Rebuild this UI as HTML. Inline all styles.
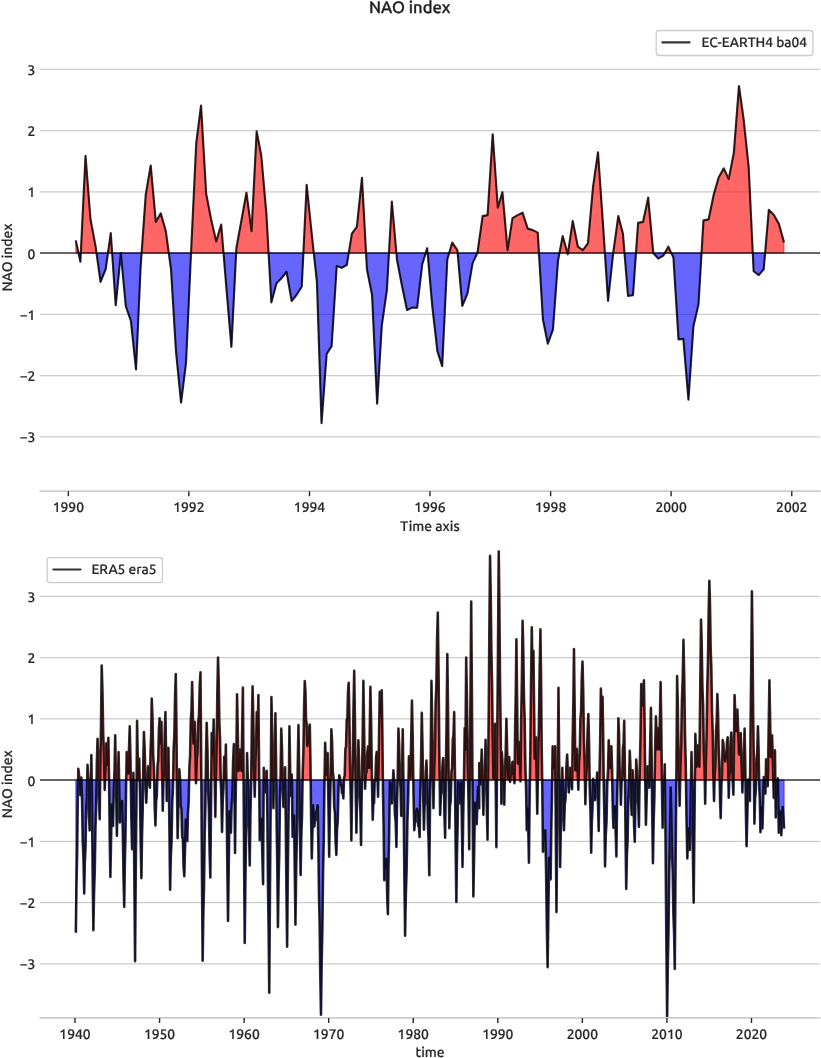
<!DOCTYPE html>
<html lang="en"><head><meta charset="utf-8"><title>NAO index</title>
<style>
html,body{margin:0;padding:0;background:#fff;overflow:hidden}
svg{display:block}
</style></head>
<body>
<svg width="821" height="1058" viewBox="0 0 821 1058" font-family="Ubuntu, 'Liberation Sans', 'DejaVu Sans', sans-serif" font-weight="500" text-rendering="geometricPrecision">
<rect width="821" height="1058" fill="#ffffff"/>
<text x="409.7" y="12.7" text-anchor="middle" font-size="16.6" fill="#1f1f1f" stroke="#1f1f1f" stroke-width="0.35">NAO index</text>
<line x1="40.0" x2="820.0" y1="436.85" y2="436.85" stroke="#cccccc" stroke-width="1.1"/>
<line x1="40.0" x2="820.0" y1="375.6" y2="375.6" stroke="#cccccc" stroke-width="1.1"/>
<line x1="40.0" x2="820.0" y1="314.35" y2="314.35" stroke="#cccccc" stroke-width="1.1"/>
<line x1="40.0" x2="820.0" y1="191.85" y2="191.85" stroke="#cccccc" stroke-width="1.1"/>
<line x1="40.0" x2="820.0" y1="130.6" y2="130.6" stroke="#cccccc" stroke-width="1.1"/>
<line x1="40.0" x2="820.0" y1="69.35" y2="69.35" stroke="#cccccc" stroke-width="1.1"/>
<clipPath id="c1"><rect x="40.0" y="24.0" width="780.0" height="467.0"/></clipPath>
<g clip-path="url(#c1)">
<path d="M75.78,253.1 L75.78,240.42 L78.53,253.1Z M80.81,253.1 L85.52,155.71 L90.47,219.04 L95.58,246.36 L96.52,253.1Z M107.94,253.1 L110.77,233.07 L112.14,253.1Z M141.6,253.1 L145.76,194.67 L150.71,165.51 L155.83,221.86 L160.78,213.29 L165.89,231.66 L168.81,253.1Z M191.01,253.1 L191.15,250.04 L196.26,142.85 L201.05,105.49 L206.17,193.69 L211.12,219.41 L216.23,241.46 L221.19,224.5 L223.54,253.1Z M236.12,253.1 L236.37,248.2 L241.49,220.02 L246.44,192.71 L251.56,231.29 L256.67,131.4 L261.29,155.71 L266.41,214.14 L268.6,253.1Z M303.37,253.1 L306.68,184.93 L311.8,234.72 L313.79,253.1Z M348.73,253.1 L351.91,233.62 L356.86,226.76 L361.97,177.76 L366.05,253.1Z M388.96,253.1 L391.85,201.47 L396.4,253.1Z M425.67,253.1 L427.17,248.2 L427.6,253.1Z M449.18,253.1 L452.26,242.56 L457.37,250.04 L457.64,253.1Z M477.23,253.1 L477.51,252.49 L482.63,216.1 L487.58,215.12 L492.69,134.27 L497.81,207.77 L502.43,192.16 L507.55,250.16 L512.5,218.06 L517.62,215.12 L522.57,212.67 L527.68,228.6 L532.8,230.13 L537.75,232.64 L538.97,253.1Z M559.45,253.1 L562.67,236.13 L567.45,253.1Z M567.97,253.1 L572.74,220.94 L577.86,246.67 L582.81,250.16 L587.93,243.3 L593.04,186.95 L598,152.22 L603.11,226.15 L604.9,253.1Z M613.18,253.1 L618.3,216.1 L622.92,233.62 L624.52,253.1Z M635.96,253.1 L638.1,222.9 L643.05,221.92 L648.17,197.61 L653.29,253.1Z M664.72,253.1 L668.31,246.67 L671.32,253.1Z M701.53,253.1 L703.46,220.39 L708.58,219.41 L713.7,194.67 L718.65,177.52 L723.76,168.39 L728.72,179.11 L733.83,152.83 L738.95,86.01 L743.57,118.72 L748.69,167.35 L752.77,253.1Z M765.1,253.1 L768.82,209.86 L773.94,215.12 L778.89,223.88 L784.01,242.38 L784.01,253.1Z" fill="#ff0000" fill-opacity="0.6" stroke="#ff0000" stroke-opacity="0.6" stroke-width="1" stroke-linejoin="miter"/>
<path d="M78.53,253.1 L80.4,261.68 L80.81,253.1Z M96.52,253.1 L100.53,281.89 L105.65,269.27 L107.94,253.1Z M112.14,253.1 L115.72,305.28 L120.84,253.1Z M120.84,253.1 L125.79,306.26 L130.9,320.9 L136.02,369.48 L140.64,266.57 L141.6,253.1Z M168.81,253.1 L171.01,269.27 L175.96,351.1 L181.08,402.55 L186.03,362.74 L191.01,253.1Z M223.54,253.1 L226.3,286.79 L231.42,346.81 L236.12,253.1Z M268.6,253.1 L271.36,302.41 L276.48,283.3 L281.43,278.21 L286.55,271.78 L291.66,301 L296.61,294.75 L301.73,286.79 L303.37,253.1Z M313.79,253.1 L316.92,281.89 L321.54,423.13 L326.65,353.98 L331.6,346.2 L336.72,265.96 L341.67,267.8 L346.79,264.98 L348.73,253.1Z M366.05,253.1 L366.93,269.27 L372.04,294.75 L377.16,403.65 L381.78,325.74 L386.9,289.85 L388.96,253.1Z M396.4,253.1 L396.96,259.53 L401.92,285.56 L407.03,310.06 L412.15,307.61 L417.1,307.8 L422.22,264.37 L425.67,253.1Z M427.6,253.1 L432.29,306.26 L437.4,351.1 L442.19,366.23 L447.3,259.53 L449.18,253.1Z M457.64,253.1 L462.32,305.9 L467.44,293.52 L472.56,263.39 L477.23,253.1Z M538.97,253.1 L542.87,318.94 L547.82,343.75 L552.94,329.66 L558.05,260.45 L559.45,253.1Z M567.45,253.1 L567.79,254.32 L567.97,253.1Z M604.9,253.1 L608.06,300.88 L613.18,253.1Z M624.52,253.1 L628.03,295.98 L632.99,295.18 L635.96,253.1Z M653.29,253.1 L658.24,258.61 L663.36,255.55 L664.72,253.1Z M671.32,253.1 L673.42,257.57 L678.54,339.46 L683.33,338.85 L688.44,399.73 L693.39,326.6 L698.51,304.31 L701.53,253.1Z M752.77,253.1 L753.64,271.23 L758.75,275.15 L763.71,269.27 L765.1,253.1Z" fill="#0000ff" fill-opacity="0.6" stroke="#0000ff" stroke-opacity="0.6" stroke-width="1" stroke-linejoin="miter"/>
<line x1="40.0" x2="820.0" y1="253.1" y2="253.1" stroke="#000" stroke-opacity="0.6" stroke-width="2"/>
<path d="M75.78,240.42 L80.4,261.68 L85.52,155.71 L90.47,219.04 L95.58,246.36 L100.53,281.89 L105.65,269.27 L110.77,233.07 L115.72,305.28 L120.84,253.1 L125.79,306.26 L130.9,320.9 L136.02,369.48 L140.64,266.57 L145.76,194.67 L150.71,165.51 L155.83,221.86 L160.78,213.29 L165.89,231.66 L171.01,269.27 L175.96,351.1 L181.08,402.55 L186.03,362.74 L191.15,250.04 L196.26,142.85 L201.05,105.49 L206.17,193.69 L211.12,219.41 L216.23,241.46 L221.19,224.5 L226.3,286.79 L231.42,346.81 L236.37,248.2 L241.49,220.02 L246.44,192.71 L251.56,231.29 L256.67,131.4 L261.29,155.71 L266.41,214.14 L271.36,302.41 L276.48,283.3 L281.43,278.21 L286.55,271.78 L291.66,301 L296.61,294.75 L301.73,286.79 L306.68,184.93 L311.8,234.72 L316.92,281.89 L321.54,423.13 L326.65,353.98 L331.6,346.2 L336.72,265.96 L341.67,267.8 L346.79,264.98 L351.91,233.62 L356.86,226.76 L361.97,177.76 L366.93,269.27 L372.04,294.75 L377.16,403.65 L381.78,325.74 L386.9,289.85 L391.85,201.47 L396.96,259.53 L401.92,285.56 L407.03,310.06 L412.15,307.61 L417.1,307.8 L422.22,264.37 L427.17,248.2 L432.29,306.26 L437.4,351.1 L442.19,366.23 L447.3,259.53 L452.26,242.56 L457.37,250.04 L462.32,305.9 L467.44,293.52 L472.56,263.39 L477.51,252.49 L482.63,216.1 L487.58,215.12 L492.69,134.27 L497.81,207.77 L502.43,192.16 L507.55,250.16 L512.5,218.06 L517.62,215.12 L522.57,212.67 L527.68,228.6 L532.8,230.13 L537.75,232.64 L542.87,318.94 L547.82,343.75 L552.94,329.66 L558.05,260.45 L562.67,236.13 L567.79,254.32 L572.74,220.94 L577.86,246.67 L582.81,250.16 L587.93,243.3 L593.04,186.95 L598,152.22 L603.11,226.15 L608.06,300.88 L613.18,253.1 L618.3,216.1 L622.92,233.62 L628.03,295.98 L632.99,295.18 L638.1,222.9 L643.05,221.92 L648.17,197.61 L653.29,253.1 L658.24,258.61 L663.36,255.55 L668.31,246.67 L673.42,257.57 L678.54,339.46 L683.33,338.85 L688.44,399.73 L693.39,326.6 L698.51,304.31 L703.46,220.39 L708.58,219.41 L713.7,194.67 L718.65,177.52 L723.76,168.39 L728.72,179.11 L733.83,152.83 L738.95,86.01 L743.57,118.72 L748.69,167.35 L753.64,271.23 L758.75,275.15 L763.71,269.27 L768.82,209.86 L773.94,215.12 L778.89,223.88 L784.01,242.38" fill="none" stroke="#000" stroke-opacity="0.8" stroke-width="2.15" stroke-linejoin="round" stroke-linecap="butt"/>
</g>
<line x1="39.5" x2="820.5" y1="491.0" y2="491.0" stroke="#cccccc" stroke-width="1.75"/>
<line x1="68.35" x2="68.35" y1="491.3" y2="496.2" stroke="#262626" stroke-width="1.4"/>
<text x="68.35" y="512" text-anchor="middle" font-size="13.89" fill="#262626" stroke="#262626" stroke-width="0.2">1990</text>
<line x1="188.84" x2="188.84" y1="491.3" y2="496.2" stroke="#262626" stroke-width="1.4"/>
<text x="188.84" y="512" text-anchor="middle" font-size="13.89" fill="#262626" stroke="#262626" stroke-width="0.2">1992</text>
<line x1="309.49" x2="309.49" y1="491.3" y2="496.2" stroke="#262626" stroke-width="1.4"/>
<text x="309.49" y="512" text-anchor="middle" font-size="13.89" fill="#262626" stroke="#262626" stroke-width="0.2">1994</text>
<line x1="429.97" x2="429.97" y1="491.3" y2="496.2" stroke="#262626" stroke-width="1.4"/>
<text x="429.97" y="512" text-anchor="middle" font-size="13.89" fill="#262626" stroke="#262626" stroke-width="0.2">1996</text>
<line x1="550.63" x2="550.63" y1="491.3" y2="496.2" stroke="#262626" stroke-width="1.4"/>
<text x="550.63" y="512" text-anchor="middle" font-size="13.89" fill="#262626" stroke="#262626" stroke-width="0.2">1998</text>
<line x1="671.11" x2="671.11" y1="491.3" y2="496.2" stroke="#262626" stroke-width="1.4"/>
<text x="671.11" y="512" text-anchor="middle" font-size="13.89" fill="#262626" stroke="#262626" stroke-width="0.2">2000</text>
<line x1="791.76" x2="791.76" y1="491.3" y2="496.2" stroke="#262626" stroke-width="1.4"/>
<text x="791.76" y="512" text-anchor="middle" font-size="13.89" fill="#262626" stroke="#262626" stroke-width="0.2">2002</text>
<text x="35.4" y="442.35" text-anchor="end" font-size="13.89" fill="#262626" stroke="#262626" stroke-width="0.2">−3</text>
<text x="35.4" y="381.1" text-anchor="end" font-size="13.89" fill="#262626" stroke="#262626" stroke-width="0.2">−2</text>
<text x="35.4" y="319.85" text-anchor="end" font-size="13.89" fill="#262626" stroke="#262626" stroke-width="0.2">−1</text>
<text x="35.4" y="258.6" text-anchor="end" font-size="13.89" fill="#262626" stroke="#262626" stroke-width="0.2">0</text>
<text x="35.4" y="197.35" text-anchor="end" font-size="13.89" fill="#262626" stroke="#262626" stroke-width="0.2">1</text>
<text x="35.4" y="136.1" text-anchor="end" font-size="13.89" fill="#262626" stroke="#262626" stroke-width="0.2">2</text>
<text x="35.4" y="74.85" text-anchor="end" font-size="13.89" fill="#262626" stroke="#262626" stroke-width="0.2">3</text>
<text transform="translate(12,257.5) rotate(-90)" text-anchor="middle" font-size="13.89" fill="#262626" stroke="#262626" stroke-width="0.2">NAO index</text>
<text x="430" y="530.5" text-anchor="middle" font-size="13.89" fill="#262626" stroke="#262626" stroke-width="0.2">Time axis</text>
<rect x="656.2" y="30.5" width="156.7" height="25" rx="2.8" ry="2.8" fill="#fff" fill-opacity="0.8" stroke="#cccccc" stroke-width="1.3"/>
<line x1="662.4000000000001" x2="689.5" y1="42.4" y2="42.4" stroke="#000" stroke-opacity="0.8" stroke-width="2.2" stroke-linecap="round"/>
<text x="701.5" y="47.2" font-size="13.7" fill="#262626" stroke="#262626" stroke-width="0.2">EC-EARTH4 ba04</text>
<line x1="40.0" x2="820.0" y1="963.85" y2="963.85" stroke="#cccccc" stroke-width="1.1"/>
<line x1="40.0" x2="820.0" y1="902.6" y2="902.6" stroke="#cccccc" stroke-width="1.1"/>
<line x1="40.0" x2="820.0" y1="841.35" y2="841.35" stroke="#cccccc" stroke-width="1.1"/>
<line x1="40.0" x2="820.0" y1="718.85" y2="718.85" stroke="#cccccc" stroke-width="1.1"/>
<line x1="40.0" x2="820.0" y1="657.6" y2="657.6" stroke="#cccccc" stroke-width="1.1"/>
<line x1="40.0" x2="820.0" y1="596.35" y2="596.35" stroke="#cccccc" stroke-width="1.1"/>
<clipPath id="c2"><rect x="40.0" y="550.6" width="780.0" height="467.19999999999993"/></clipPath>
<g clip-path="url(#c2)">
<path d="M78.14,780.1 L78.34,768.77 L79.01,774.91 L79.26,780.1Z M81.21,780.1 L81.35,777.65 L81.42,780.1Z M87.2,780.1 L87.52,764.79 L88.22,780.1Z M90.8,780.1 L91.36,754.99 L91.68,780.1Z M96.59,780.1 L96.84,764.48 L97.53,738.7 L98.26,759.44 L98.64,780.1Z M100.16,780.1 L100.37,761.93 L101.04,722.93 L101.7,665.56 L102.45,690.52 L103.21,733.86 L103.96,752.69 L104.51,780.1Z M105.06,780.1 L106.38,743.35 L107.38,764.79 L108.38,737.84 L109.05,778.06 L109.07,780.1Z M114.16,780.1 L114.5,771.73 L115.22,735.39 L115.96,780.1Z M118,780.1 L118.56,751.93 L119.09,780.1Z M126.19,780.1 L126.73,751.93 L128.23,773.36 L129.74,726.2 L130.52,761.11 L130.79,780.1Z M133.28,780.1 L133.41,772.75 L133.47,780.1Z M136.62,780.1 L137.08,720.87 L138.16,780.1Z M138.16,780.1 L139.25,758.66 L139.71,780.1Z M143.07,780.1 L143.29,762.41 L143.92,732.02 L144.7,749.48 L145.36,780.1Z M147.56,780.1 L148.09,766.26 L148.7,771.26 L149.18,780.1Z M150.06,780.1 L150.54,751.88 L151.15,734.45 L151.76,698.64 L152.5,717.87 L153.23,755.48 L153.96,768.59 L154.19,780.1Z M157.19,780.1 L157.52,765.77 L158.21,760.17 L158.91,730.08 L159.6,718.36 L160.52,743.35 L161.44,721.91 L162.31,780.1Z M163.44,780.1 L163.44,779.95 L164.11,767.54 L164.78,730.64 L165.44,712.11 L166.47,780.1Z M167.43,780.1 L168.45,747.88 L168.83,780.1Z M173.1,780.1 L173.66,748.75 L174.37,734.02 L175.08,694.8 L175.79,673.95 L176.4,722.61 L176.93,780.1Z M179.03,780.1 L179.29,769.26 L180.01,778.42 L180.05,780.1Z M189.11,780.1 L189.38,766.8 L190.07,756.34 L190.76,721.39 L191.45,710.93 L192.14,682.1 L193.48,743.35 L194.81,721.91 L195.92,780.1Z M196.07,780.1 L196.73,758.56 L197.48,752.33 L198.23,721.61 L198.98,715.38 L199.73,684.65 L200.49,672.3 L201.21,762.34 L201.33,780.1Z M205.7,780.1 L206.01,756.37 L206.68,722.83 L207.41,747.64 L207.97,780.1Z M211.25,780.1 L211.69,732.94 L212.69,754.38 L213.69,719.46 L214.73,780.1Z M215.89,780.1 L216.02,770.91 L216.69,743.35 L217.36,691.29 L218.03,657.6 L218.69,680.52 L219.36,721.81 L220.03,738.6 L220.7,779.9 L220.7,780.1Z M223.66,780.1 L224.2,756.83 L225.04,778.26 L225.87,744.58 L226.36,780.1Z M232.69,780.1 L233.13,760.04 L233.88,743.96 L234.27,780.1Z M235.94,780.1 L236.38,753.35 L237.05,694.35 L238.55,770.91 L240.05,749.48 L241.47,770.91 L242.89,687.61 L243.5,766.62 L243.59,780.1Z M246.76,780.1 L247.06,753.15 L247.73,775.12 L247.81,780.1Z M251.17,780.1 L251.86,725.05 L252.57,686.39 L253.29,717.01 L254.01,766.01 L254.35,780.1Z M255.06,780.1 L255.4,762.34 L256.07,746.41 L256.74,712.11 L257.57,733.55 L258.41,694.96 L259.19,780.1Z M263.68,780.1 L263.75,767.85 L264.5,780.1Z M266.11,780.1 L266.75,770.91 L266.87,780.1Z M270.85,780.1 L271.42,696.98 L272.09,727.96 L272.76,777.3 L272.82,780.1Z M273.92,780.1 L274.09,770.5 L274.76,751.11 L275.43,713.34 L276.05,760.65 L276.24,780.1Z M280.46,780.1 L280.6,774.47 L281.27,728.65 L281.99,748.66 L282.58,780.1Z M284.57,780.1 L285.11,767.24 L285.27,780.1Z M288.92,780.1 L289.44,726.2 L290.35,780.1Z M291.48,780.1 L291.78,774.59 L291.85,780.1Z M297.57,780.1 L297.7,768.77 L298.45,724.98 L299.18,768.87 L299.31,780.1Z M302.58,780.1 L302.71,771.95 L303.4,751.88 L304.1,707.31 L304.79,681.12 L305.42,691.21 L306.05,719.68 L306.67,723.64 L307.3,745.98 L307.92,738.48 L308.55,737.41 L309.17,727.76 L309.8,724.55 L310.47,763.07 L310.67,780.1Z M324.49,780.1 L325.15,742.74 L326.4,774.59 L327.65,753.15 L328.05,780.1Z M330.57,780.1 L330.62,777.85 L331.35,729.26 L332.06,741.08 L332.78,771.26 L333.49,776.95 L333.57,780.1Z M338.94,780.1 L339.19,775.2 L339.88,776.75 L340.16,780.1Z M343.96,780.1 L344.03,777.88 L344.7,775.66 L345.36,748.94 L346.03,746.72 L346.7,720 L347.37,717.78 L348.03,691.06 L348.7,682.71 L349.37,716.03 L350.04,767.73 L350.34,780.1Z M352.36,780.1 L352.79,761.76 L353.5,707.07 L354.21,670.77 L354.93,718.65 L355.6,780.1Z M357.61,780.1 L357.71,777.24 L358.38,740.29 L359.05,760.35 L359.39,780.1Z M361.9,780.1 L362.61,741.72 L363.38,680.88 L364.92,780.1Z M365.49,780.1 L365.8,773.88 L366.55,771.77 L367.31,752.75 L368.06,746.41 L369.22,767.85 L370.39,686.69 L371.17,724.89 L371.93,780.1Z M374.72,780.1 L374.73,779.67 L375.03,780.1Z M375.41,780.1 L376.07,757.09 L376.73,751.93 L377.57,780.1Z M378.33,780.1 L379.74,691.9 L380.74,713.34 L381.74,690.31 L382.36,731.67 L382.87,780.1Z M392.92,780.1 L393.42,770.3 L393.98,780.1Z M397.61,780.1 L397.76,774.18 L398.42,728.65 L399.13,744.36 L399.84,778.45 L399.97,780.1Z M401.88,780.1 L402.76,729.26 L403.39,780.1Z M408.5,780.1 L408.94,756.21 L410.44,777.65 L411.94,700.66 L412.72,737.69 L413.32,780.1Z M420.57,780.1 L421.06,760.3 L421.79,712.73 L422.51,745.6 L423,780.1Z M425.65,780.1 L425.83,771.68 L426.46,760.5 L427.07,780.1Z M430.35,780.1 L430.74,751.78 L431.46,680.88 L432.13,717.22 L432.8,771.93 L432.95,780.1Z M433.99,780.1 L434.19,769.54 L434.91,749.19 L435.63,704.33 L436.36,683.98 L437.08,639.12 L437.8,612.64 L438.58,673.97 L439.36,753.68 L439.7,780.1Z M442,780.1 L442.39,766.59 L443.14,758.05 L443.81,778.47 L443.84,780.1Z M445.76,780.1 L445.87,770.3 L446.59,721.3 L447.32,653.93 L447.98,705.89 L448.65,776.22 L448.7,780.1Z M451.21,780.1 L451.4,772.31 L452.09,767.98 L452.79,739.15 L453.48,734.82 L454.18,712.11 L454.9,769.28 L455,780.1Z M463.97,780.1 L464.69,728.04 L465.44,749.48 L466.19,657.6 L466.94,699.4 L467.69,759.58 L468.12,780.1Z M469.72,780.1 L469.86,760.56 L470.53,690.19 L471.2,601.43 L471.92,693.66 L472.49,780.1Z M479.21,780.1 L479.21,762.95 L480.21,780.1Z M480.61,780.1 L481.71,749.48 L482.49,780.1Z M484.3,780.1 L484.82,770.85 L485.55,739.68 L486.21,766.93 L486.41,780.1Z M488.03,780.1 L488.18,762.72 L488.8,704 L489.43,620.77 L490.05,555.92 L490.72,594.27 L491.39,650.99 L492.05,683.2 L492.72,739.92 L493.39,778.26 L495.06,723.75 L495.67,780.1Z M496.89,780.1 L497.17,742.12 L497.95,655.46 L498.73,550.41 L499.4,607.64 L500.06,683.23 L500.73,734.33 L501.17,780.1Z M501.55,780.1 L501.73,751.93 L502.36,759.83 L502.89,780.1Z M504.75,780.1 L504.96,769.89 L505.68,753.56 L506.4,718.85 L507.82,778.51 L509.24,757.07 L510.01,780.1Z M510.24,780.1 L510.7,774.86 L511.33,773.85 L511.95,764.76 L512.58,761.73 L513.22,766.73 L513.86,778.16 L514.11,780.1Z M514.53,780.1 L515.14,729.06 L515.78,693.33 L516.42,639.23 L517.83,763.56 L519.25,742.12 L520.38,780.1Z M520.44,780.1 L521.14,721.71 L521.87,680.47 L522.59,620.85 L523.29,649.61 L523.98,696.74 L524.68,719.37 L525.37,766.5 L525.79,780.1Z M529.91,780.1 L530.35,751.13 L531.06,679.99 L531.77,627.22 L532.6,672.3 L533.44,650.86 L534.69,758.66 L535.94,737.23 L536.69,780.1Z M537.79,780.1 L538.07,761.57 L538.86,727.73 L539.65,669.39 L540.44,629.42 L541.07,678.88 L541.7,746.72 L542.18,780.1Z M552.18,780.1 L552.63,746.41 L553.88,767.85 L555.13,746.41 L555.4,780.1Z M557.68,780.1 L557.8,768.69 L558.47,687.8 L559.33,780.1Z M562.08,780.1 L562.3,767.85 L562.63,780.1Z M566.02,780.1 L566.35,767.33 L567.14,754.56 L568.27,780.1Z M569.48,780.1 L570.15,767.85 L570.79,772.85 L571.19,780.1Z M572.18,780.1 L572.7,736.41 L573.34,701.9 L573.98,649.02 L575.4,770.3 L576.82,748.86 L577.98,780.1Z M578.59,780.1 L579.04,762.27 L579.73,753.13 L580.43,719.49 L581.12,710.36 L581.82,676.72 L582.51,661.46 L583.22,691.04 L583.93,739 L584.64,762.46 L584.94,780.1Z M585.98,780.1 L586.1,775.58 L586.85,765.25 L587.6,730.41 L588.35,713.95 L589.06,742.51 L589.63,780.1Z M593.08,780.1 L593.11,778.88 L593.27,780.1Z M596.74,780.1 L597.2,772.44 L597.39,780.1Z M599.39,780.1 L599.42,777.38 L600.15,742.21 L600.87,688.65 L601.7,718.24 L602.54,696.8 L603.16,733.09 L603.7,780.1Z M607.5,780.1 L607.98,771.65 L608.71,740.29 L610.05,767.85 L611.38,746.41 L612.05,767.38 L612.26,780.1Z M617.53,780.1 L617.72,770.4 L618.39,718.24 L619.02,733.7 L619.64,767.54 L620.27,776.88 L620.34,780.1Z M621.8,780.1 L622.23,777.23 L622.9,748.24 L623.56,743.74 L624.23,720.87 L624.9,770.77 L624.99,780.1Z M629.13,780.1 L629.74,750.7 L630.4,766.01 L630.68,780.1Z M632.39,780.1 L632.57,770.3 L632.97,780.1Z M635.87,780.1 L636.24,759.58 L636.91,770.27 L637.14,780.1Z M639.59,780.1 L639.69,773.08 L640.47,737.69 L641.25,683.94 L642.58,705.38 L643.92,680.26 L644.59,722.32 L645.23,780.1Z M647.2,780.1 L647.59,766.26 L648.67,780.1Z M649.42,780.1 L650.93,707.83 L651.6,753.5 L651.87,780.1Z M654.67,780.1 L655.18,746.98 L655.93,716.4 L657.02,749.48 L658.1,728.04 L659.35,749.48 L660.61,682.1 L661.27,724.51 L661.88,780.1Z M664.36,780.1 L664.78,764.18 L664.94,780.1Z M676.34,780.1 L676.35,779.75 L677.12,675.98 L677.75,702.31 L678.38,747.02 L679,767.24 L679.21,780.1Z M680.13,780.1 L680.4,766.5 L681.16,745.56 L681.93,700.11 L682.7,679.16 L683.47,639.84 L684.23,677.45 L685,733.43 L685.77,764.91 L685.98,780.1Z M691.02,780.1 L691.51,751.93 L691.97,780.1Z M694.89,780.1 L695.35,733.73 L696.51,766.62 L697.68,745.19 L699.35,766.62 L701.02,619.62 L701.72,644.2 L702.41,687.14 L703.11,705.59 L703.8,748.54 L704.5,766.98 L704.74,780.1Z M705.57,780.1 L705.89,760.51 L706.58,735.59 L707.28,686.17 L707.97,661.25 L708.67,611.84 L709.36,580.79 L710.03,606.12 L710.7,649.81 L711.37,669.01 L712.03,712.71 L712.7,731.9 L713.37,775.6 L713.49,780.1Z M714.54,780.1 L714.7,773.41 L715.37,764.27 L716.04,730.63 L716.7,721.5 L717.37,693.98 L718.04,712.68 L718.71,749.74 L719.37,762.31 L719.69,780.1Z M721.66,780.1 L722.04,772.18 L722.71,740.04 L723.34,743.26 L723.96,752.9 L724.59,753.98 L725.21,761.48 L725.84,752.99 L726.47,751.78 L727.09,740.86 L727.72,737.23 L728.43,780.1Z M729.21,780.1 L729.34,775.23 L729.97,771.22 L730.6,742.71 L731.22,732.57 L731.94,747.19 L732.67,780.1Z M733.56,780.1 L734.56,694.96 L735.98,731.1 L737.4,709.66 L739.06,754.38 L740.73,732.94 L742.06,780.1Z M742.73,780.1 L743.12,764.99 L743.85,756.01 L744.57,728.65 L745.24,761.73 L745.48,780.1Z M748.23,780.1 L748.24,779.49 L748.29,780.1Z M750.09,780.1 L750.58,724.91 L751.25,667.28 L751.91,591.27 L752.54,643.22 L753.16,713.55 L753.79,759.38 L753.99,780.1Z M756.05,780.1 L756.52,759.03 L757.22,751.8 L757.92,726.2 L758.55,746.57 L759.09,780.1Z M763.68,780.1 L763.76,777.04 L764.07,780.1Z M765.69,780.1 L766.1,759.27 L767.39,780.1Z M767.86,780.1 L769.43,680.26 L770.77,756.83 L772.1,735.39 L773.3,780.1Z M774.21,780.1 L774.94,750.39 L775.31,780.1Z M777.86,780.1 L777.94,778.26 L777.97,780.1Z" fill="#ff0000" fill-opacity="0.6" stroke="#ff0000" stroke-opacity="0.6" stroke-width="1" stroke-linejoin="miter"/>
<path d="M75.84,780.1 L75.84,932.61 L76.47,885.53 L77.09,856.82 L77.72,803.6 L78.14,780.1Z M79.26,780.1 L79.68,788.96 L80.35,795.11 L81.21,780.1Z M81.42,780.1 L82.06,800.47 L82.76,841.66 L83.47,858.35 L84.18,893.41 L84.85,861.56 L85.52,848.09 L86.19,810.11 L86.85,796.64 L87.2,780.1Z M88.22,780.1 L88.24,780.51 L88.97,814.6 L89.69,830.33 L90.8,780.1Z M91.68,780.1 L92.03,807.25 L92.69,877.9 L93.36,930.16 L94.06,892.13 L94.75,872.47 L95.45,828.3 L96.14,808.64 L96.59,780.1Z M98.64,780.1 L98.98,798.56 L99.7,819.3 L100.16,780.1Z M104.51,780.1 L104.71,789.9 L105.06,780.1Z M109.07,780.1 L109.71,836.65 L110.38,876.88 L111.72,804.6 L113.05,826.04 L113.77,789.7 L114.16,780.1Z M115.96,780.1 L116.89,835.84 L118,780.1Z M119.09,780.1 L119.89,822.36 L120.61,813.07 L121.34,810.21 L122.06,800.93 L122.78,830.12 L123.51,877.69 L124.23,906.89 L124.86,862.02 L125.48,835.53 L126.11,784.54 L126.19,780.1Z M130.79,780.1 L131.29,814.4 L132.07,849.31 L133.28,780.1Z M133.47,780.1 L135.08,961.15 L135.74,874.94 L136.41,807.09 L136.62,780.1Z M139.71,780.1 L139.97,792.35 L140.69,844.41 L141.42,878.1 L142.04,835.45 L142.67,811.18 L143.07,780.1Z M145.36,780.1 L145.48,785.31 L146.26,802.76 L146.87,786.94 L147.48,782.08 L147.56,780.1Z M149.18,780.1 L149.31,782.69 L149.93,787.7 L150.06,780.1Z M154.19,780.1 L154.7,806.19 L155.43,825.43 L156.13,801.46 L156.82,795.86 L157.19,780.1Z M162.31,780.1 L162.77,810.73 L163.44,780.1Z M166.47,780.1 L166.78,800.93 L167.43,780.1Z M168.83,780.1 L170.12,889.74 L170.83,856.64 L171.54,841.92 L172.24,802.69 L172.95,787.97 L173.1,780.1Z M176.93,780.1 L177.01,789.63 L177.63,838.29 L179.03,780.1Z M180.05,780.1 L180.72,805.96 L181.44,808.99 L182.15,836.53 L182.87,839.57 L183.58,867.1 L184.3,876.26 L185.8,819.61 L187.3,841.04 L187.99,812.21 L188.69,801.76 L189.11,780.1Z M195.92,780.1 L195.98,783.16 L196.07,780.1Z M201.33,780.1 L201.93,870.75 L202.65,960.79 L203.33,915 L204,887.59 L204.67,835.68 L205.34,808.28 L205.7,780.1Z M207.97,780.1 L208.15,790.82 L208.88,809.5 L209.62,852.68 L210.35,877.49 L211.25,780.1Z M214.73,780.1 L215.36,816.85 L215.89,780.1Z M220.7,780.1 L221.36,796.69 L222.03,831.86 L222.75,800.72 L223.48,787.96 L223.66,780.1Z M226.36,780.1 L226.59,797.25 L227.32,868.3 L228.04,920.98 L229.46,811.34 L230.88,832.77 L231.63,804.45 L232.38,794.49 L232.69,780.1Z M234.27,780.1 L235.05,852.99 L235.71,793.98 L235.94,780.1Z M243.59,780.1 L244.11,864.01 L244.72,943.03 L245.5,873.61 L246.28,822.57 L246.76,780.1Z M247.81,780.1 L248.4,815.47 L249.06,831.32 L249.73,865.54 L250.44,814.63 L251.15,782.09 L251.17,780.1Z M254.35,780.1 L254.74,796.64 L255.06,780.1Z M259.19,780.1 L259.74,840.12 L261.41,818.69 L263.08,884.23 L263.68,780.1Z M264.5,780.1 L265.25,792.35 L266.11,780.1Z M266.87,780.1 L267.38,820.22 L268,887.9 L268.63,931.08 L269.25,992.64 L269.98,887.96 L270.7,801.66 L270.85,780.1Z M272.82,780.1 L273.42,808.27 L273.92,780.1Z M276.24,780.1 L276.68,826.34 L277.3,867.53 L277.93,927.1 L278.6,881.28 L279.26,853.85 L279.93,801.91 L280.46,780.1Z M282.58,780.1 L282.71,787.04 L283.44,807.05 L284.57,780.1Z M285.27,780.1 L285.77,820.93 L286.44,893 L287.11,946.7 L287.89,867.08 L288.66,805.83 L288.92,780.1Z M290.35,780.1 L290.61,796.02 L291.48,780.1Z M291.85,780.1 L292.61,837.06 L294.03,815.62 L295.45,924.65 L296.2,868.61 L296.95,830.94 L297.57,780.1Z M299.31,780.1 L299.9,831.14 L300.62,875.04 L301.32,836.59 L302.01,816.52 L302.58,780.1Z M310.67,780.1 L311.14,819.97 L311.8,858.5 L313.05,805.21 L314.31,826.65 L314.97,820.22 L315.64,820.22 L316.31,811.64 L316.98,811.64 L317.64,805.21 L318.31,840.98 L318.98,895.13 L319.65,924.77 L320.31,978.92 L320.98,1014.69 L321.68,963.24 L322.37,930.16 L323.07,872.59 L323.76,839.51 L324.46,781.94 L324.49,780.1Z M328.05,780.1 L329.18,856.66 L329.9,808.07 L330.57,780.1Z M333.57,780.1 L334.21,807.14 L334.92,812.83 L335.64,843.01 L336.35,854.83 L337.06,828.79 L337.77,821.14 L338.48,788.98 L338.94,780.1Z M340.16,780.1 L340.58,785.29 L341.27,784.51 L341.97,793.04 L342.67,792.27 L343.36,798.48 L343.96,780.1Z M350.34,780.1 L350.7,794.92 L351.37,840.49 L352.08,791.94 L352.36,780.1Z M355.6,780.1 L355.65,784.9 L356.38,832.77 L357.04,795.82 L357.61,780.1Z M359.39,780.1 L359.71,798.78 L360.38,812.72 L361.05,845.02 L361.83,784.18 L361.9,780.1Z M364.92,780.1 L365.05,788.68 L365.49,780.1Z M371.93,780.1 L371.95,781.47 L372.73,819.67 L373.4,802.25 L374.06,803.21 L374.72,780.1Z M375.03,780.1 L375.4,780.63 L375.41,780.1Z M377.57,780.1 L378.07,796.64 L378.33,780.1Z M382.87,780.1 L382.99,791.4 L383.62,826.63 L384.24,880.24 L384.85,870.95 L385.47,868.1 L386.08,858.81 L386.69,871.74 L387.3,901.3 L387.91,914.24 L388.55,864.01 L389.19,832.16 L389.83,781.94 L390.47,786.94 L391.11,798.37 L391.75,803.38 L392.92,780.1Z M393.98,780.1 L394.17,783.32 L394.92,814.71 L395.67,821.6 L396.42,846.86 L397.09,801.33 L397.61,780.1Z M399.97,780.1 L400.55,788.03 L401.26,815.99 L401.88,780.1Z M403.39,780.1 L403.54,791.94 L404.32,873 L405.1,935.67 L405.87,893.66 L406.63,870.01 L407.4,821.87 L408.17,798.23 L408.5,780.1Z M413.32,780.1 L413.5,793.11 L414.28,830.14 L414.94,822.64 L415.61,821.57 L416.28,811.92 L416.95,808.7 L417.61,812.96 L418.28,825.72 L418.95,827.14 L419.62,837.06 L420.34,789.49 L420.57,780.1Z M423,780.1 L423.23,796.84 L423.95,829.71 L424.58,806.28 L425.21,801.23 L425.65,780.1Z M427.07,780.1 L427.17,783.06 L427.88,823.99 L428.59,840.42 L429.29,875.22 L430.02,804.31 L430.35,780.1Z M432.95,780.1 L433.47,808.27 L433.99,780.1Z M439.7,780.1 L440.14,815.01 L440.89,795.08 L441.64,792.23 L442,780.1Z M443.84,780.1 L444.48,817.26 L445.15,837.68 L445.76,780.1Z M448.7,780.1 L449.32,828.18 L450.01,805.48 L450.71,801.14 L451.21,780.1Z M455,780.1 L455.62,844.82 L456.35,901.99 L456.96,855.85 L457.57,828.08 L458.18,781.94 L458.79,786.94 L459.41,798.37 L460.02,803.38 L461.27,781.94 L462.52,866.89 L463.24,814.48 L463.97,780.45 L463.97,780.1Z M468.12,780.1 L468.44,795.26 L469.19,849.31 L469.72,780.1Z M472.49,780.1 L472.64,804.25 L473.37,896.48 L475.04,802.76 L476.7,824.2 L477.96,786.84 L479.21,808.27 L479.21,780.1Z M480.21,780.1 L480.46,784.39 L480.61,780.1Z M482.49,780.1 L483.38,814.83 L484.1,783.65 L484.3,780.1Z M486.41,780.1 L486.88,812.56 L487.55,839.82 L488.03,780.1Z M495.67,780.1 L496.39,847.17 L496.89,780.1Z M501.17,780.1 L501.4,803.8 L501.55,780.1Z M502.89,780.1 L502.98,783.53 L503.61,786.16 L504.24,804.6 L504.75,780.1Z M510.01,780.1 L510.08,781.94 L510.24,780.1Z M514.11,780.1 L514.5,783.16 L514.53,780.1Z M520.38,780.1 L520.42,781.33 L520.44,780.1Z M525.79,780.1 L526.07,789.13 L526.76,830.14 L527.85,808.7 L528.93,862.79 L529.64,797.77 L529.91,780.1Z M536.69,780.1 L537.27,813.79 L537.79,780.1Z M542.18,780.1 L542.32,790.05 L542.95,851.76 L543.73,842.47 L544.5,839.61 L545.28,830.33 L546.06,869.85 L546.84,927.75 L547.62,967.28 L549.12,857.89 L550.62,879.33 L551.29,828.9 L551.96,796.84 L552.18,780.1Z M555.4,780.1 L556.46,912.09 L557.13,831.2 L557.68,780.1Z M559.33,780.1 L560.13,866.89 L560.86,827.75 L561.58,806.99 L562.08,780.1Z M562.63,780.1 L563.97,830.14 L564.76,805.12 L565.56,798.48 L566.02,780.1Z M568.27,780.1 L568.81,792.35 L569.48,780.1Z M571.19,780.1 L571.43,784.29 L572.06,789.29 L572.18,780.1Z M577.98,780.1 L578.34,789.78 L578.59,780.1Z M584.94,780.1 L585.35,804.29 L585.98,780.1Z M589.63,780.1 L589.77,789.44 L590.48,811.87 L591.19,852.68 L591.83,821.95 L592.47,809.6 L593.08,780.1Z M593.27,780.1 L593.75,783.88 L594.39,795.31 L595.03,800.31 L595.75,788.24 L596.48,784.52 L596.74,780.1Z M597.39,780.1 L598.7,830.94 L599.39,780.1Z M603.7,780.1 L603.79,787.76 L604.42,817.92 L605.04,866.46 L605.78,835.1 L606.51,822.12 L607.24,784.63 L607.5,780.1Z M612.26,780.1 L612.72,806.72 L613.38,827.69 L614.89,806.25 L616.39,856.36 L617.05,804.19 L617.53,780.1Z M620.34,780.1 L620.89,804.6 L621.56,781.73 L621.8,780.1Z M624.99,780.1 L625.56,839.04 L626.23,888.94 L626.93,855.17 L627.63,839.77 L628.33,799.87 L629.04,784.47 L629.13,780.1Z M630.68,780.1 L631.07,799.7 L631.74,815.01 L632.39,780.1Z M632.97,780.1 L633.3,788.02 L634.02,824.12 L634.74,841.84 L635.87,780.1Z M637.14,780.1 L637.58,799.33 L638.25,803.9 L638.91,826.83 L639.59,780.1Z M645.23,780.1 L645.25,782.75 L645.92,824.81 L647.2,780.1Z M648.67,780.1 L649.26,787.7 L649.42,780.1Z M651.87,780.1 L652.26,817.54 L652.93,863.22 L653.68,820.39 L654.43,795.93 L654.67,780.1Z M661.88,780.1 L661.94,785.29 L662.61,827.69 L663.33,800.39 L664.05,791.47 L664.36,780.1Z M664.94,780.1 L665.56,842.37 L666.33,938.94 L667.11,1017.14 L667.81,965.08 L668.51,931.39 L669.22,873.2 L669.92,839.51 L670.62,787.45 L671.31,811.57 L672.01,854.07 L672.7,872.07 L673.4,914.56 L674.09,932.56 L674.79,968.93 L675.57,865.16 L676.34,780.1Z M679.21,780.1 L679.63,805.83 L680.13,780.1Z M685.98,780.1 L686.54,820.89 L687.3,858.5 L688.55,828.49 L689.81,849.92 L691.02,780.1Z M691.97,780.1 L692.23,796.02 L692.95,858.5 L693.68,902.6 L694.89,780.1Z M704.74,780.1 L705.19,803.8 L705.57,780.1Z M713.49,780.1 L714.04,800.93 L714.54,780.1Z M719.69,780.1 L720.04,799.38 L720.71,818.08 L721.38,785.94 L721.66,780.1Z M728.43,780.1 L728.72,797.62 L729.21,780.1Z M732.67,780.1 L732.67,780.18 L733.39,794.8 L733.56,780.1Z M742.06,780.1 L742.4,792.35 L742.73,780.1Z M745.48,780.1 L745.91,813.17 L746.57,846.25 L748.23,780.1Z M748.29,780.1 L749.91,800.93 L750.09,780.1Z M753.99,780.1 L754.42,823.59 L755.12,797.99 L755.82,790.76 L756.05,780.1Z M759.09,780.1 L759.17,785.31 L759.8,799.55 L760.42,832.16 L761.42,807.05 L762.42,828.49 L763.68,780.1Z M764.07,780.1 L765.43,793.58 L765.69,780.1Z M767.39,780.1 L767.76,786.23 L767.86,780.1Z M773.3,780.1 L773.77,797.86 L774.21,780.1Z M775.31,780.1 L775.77,817.46 L776.5,800.48 L777.22,795.25 L777.86,780.1Z M777.97,780.1 L778.78,832.77 L780.03,811.34 L781.28,835.23 L782.7,807.05 L784.12,828.49 L784.12,780.1Z" fill="#0000ff" fill-opacity="0.6" stroke="#0000ff" stroke-opacity="0.6" stroke-width="1" stroke-linejoin="miter"/>
<line x1="40.0" x2="820.0" y1="780.1" y2="780.1" stroke="#000" stroke-opacity="0.6" stroke-width="2"/>
<path d="M75.84,932.61 L76.47,885.53 L77.09,856.82 L77.72,803.6 L78.34,768.77 L79.01,774.91 L79.68,788.96 L80.35,795.11 L81.35,777.65 L82.06,800.47 L82.76,841.66 L83.47,858.35 L84.18,893.41 L84.85,861.56 L85.52,848.09 L86.19,810.11 L86.85,796.64 L87.52,764.79 L88.24,780.51 L88.97,814.6 L89.69,830.33 L91.36,754.99 L92.03,807.25 L92.69,877.9 L93.36,930.16 L94.06,892.13 L94.75,872.47 L95.45,828.3 L96.14,808.64 L96.84,764.48 L97.53,738.7 L98.26,759.44 L98.98,798.56 L99.7,819.3 L100.37,761.93 L101.04,722.93 L101.7,665.56 L102.45,690.52 L103.21,733.86 L103.96,752.69 L104.71,789.9 L106.38,743.35 L107.38,764.79 L108.38,737.84 L109.05,778.06 L109.71,836.65 L110.38,876.88 L111.72,804.6 L113.05,826.04 L113.77,789.7 L114.5,771.73 L115.22,735.39 L116.89,835.84 L118.56,751.93 L119.89,822.36 L120.61,813.07 L121.34,810.21 L122.06,800.93 L122.78,830.12 L123.51,877.69 L124.23,906.89 L124.86,862.02 L125.48,835.53 L126.11,784.54 L126.73,751.93 L128.23,773.36 L129.74,726.2 L130.52,761.11 L131.29,814.4 L132.07,849.31 L133.41,772.75 L135.08,961.15 L135.74,874.94 L136.41,807.09 L137.08,720.87 L138.16,780.1 L139.25,758.66 L139.97,792.35 L140.69,844.41 L141.42,878.1 L142.04,835.45 L142.67,811.18 L143.29,762.41 L143.92,732.02 L144.7,749.48 L145.48,785.31 L146.26,802.76 L146.87,786.94 L147.48,782.08 L148.09,766.26 L148.7,771.26 L149.31,782.69 L149.93,787.7 L150.54,751.88 L151.15,734.45 L151.76,698.64 L152.5,717.87 L153.23,755.48 L153.96,768.59 L154.7,806.19 L155.43,825.43 L156.13,801.46 L156.82,795.86 L157.52,765.77 L158.21,760.17 L158.91,730.08 L159.6,718.36 L160.52,743.35 L161.44,721.91 L162.77,810.73 L163.44,779.95 L164.11,767.54 L164.78,730.64 L165.44,712.11 L166.78,800.93 L168.45,747.88 L170.12,889.74 L170.83,856.64 L171.54,841.92 L172.24,802.69 L172.95,787.97 L173.66,748.75 L174.37,734.02 L175.08,694.8 L175.79,673.95 L176.4,722.61 L177.01,789.63 L177.63,838.29 L179.29,769.26 L180.01,778.42 L180.72,805.96 L181.44,808.99 L182.15,836.53 L182.87,839.57 L183.58,867.1 L184.3,876.26 L185.8,819.61 L187.3,841.04 L187.99,812.21 L188.69,801.76 L189.38,766.8 L190.07,756.34 L190.76,721.39 L191.45,710.93 L192.14,682.1 L193.48,743.35 L194.81,721.91 L195.98,783.16 L196.73,758.56 L197.48,752.33 L198.23,721.61 L198.98,715.38 L199.73,684.65 L200.49,672.3 L201.21,762.34 L201.93,870.75 L202.65,960.79 L203.33,915 L204,887.59 L204.67,835.68 L205.34,808.28 L206.01,756.37 L206.68,722.83 L207.41,747.64 L208.15,790.82 L208.88,809.5 L209.62,852.68 L210.35,877.49 L211.69,732.94 L212.69,754.38 L213.69,719.46 L215.36,816.85 L216.02,770.91 L216.69,743.35 L217.36,691.29 L218.03,657.6 L218.69,680.52 L219.36,721.81 L220.03,738.6 L220.7,779.9 L221.36,796.69 L222.03,831.86 L222.75,800.72 L223.48,787.96 L224.2,756.83 L225.04,778.26 L225.87,744.58 L226.59,797.25 L227.32,868.3 L228.04,920.98 L229.46,811.34 L230.88,832.77 L231.63,804.45 L232.38,794.49 L233.13,760.04 L233.88,743.96 L235.05,852.99 L235.71,793.98 L236.38,753.35 L237.05,694.35 L238.55,770.91 L240.05,749.48 L241.47,770.91 L242.89,687.61 L243.5,766.62 L244.11,864.01 L244.72,943.03 L245.5,873.61 L246.28,822.57 L247.06,753.15 L247.73,775.12 L248.4,815.47 L249.06,831.32 L249.73,865.54 L250.44,814.63 L251.15,782.09 L251.86,725.05 L252.57,686.39 L253.29,717.01 L254.01,766.01 L254.74,796.64 L255.4,762.34 L256.07,746.41 L256.74,712.11 L257.57,733.55 L258.41,694.96 L259.74,840.12 L261.41,818.69 L263.08,884.23 L263.75,767.85 L265.25,792.35 L266.75,770.91 L267.38,820.22 L268,887.9 L268.63,931.08 L269.25,992.64 L269.98,887.96 L270.7,801.66 L271.42,696.98 L272.09,727.96 L272.76,777.3 L273.42,808.27 L274.09,770.5 L274.76,751.11 L275.43,713.34 L276.05,760.65 L276.68,826.34 L277.3,867.53 L277.93,927.1 L278.6,881.28 L279.26,853.85 L279.93,801.91 L280.6,774.47 L281.27,728.65 L281.99,748.66 L282.71,787.04 L283.44,807.05 L285.11,767.24 L285.77,820.93 L286.44,893 L287.11,946.7 L287.89,867.08 L288.66,805.83 L289.44,726.2 L290.61,796.02 L291.78,774.59 L292.61,837.06 L294.03,815.62 L295.45,924.65 L296.2,868.61 L296.95,830.94 L297.7,768.77 L298.45,724.98 L299.18,768.87 L299.9,831.14 L300.62,875.04 L301.32,836.59 L302.01,816.52 L302.71,771.95 L303.4,751.88 L304.1,707.31 L304.79,681.12 L305.42,691.21 L306.05,719.68 L306.67,723.64 L307.3,745.98 L307.92,738.48 L308.55,737.41 L309.17,727.76 L309.8,724.55 L310.47,763.07 L311.14,819.97 L311.8,858.5 L313.05,805.21 L314.31,826.65 L314.97,820.22 L315.64,820.22 L316.31,811.64 L316.98,811.64 L317.64,805.21 L318.31,840.98 L318.98,895.13 L319.65,924.77 L320.31,978.92 L320.98,1014.69 L321.68,963.24 L322.37,930.16 L323.07,872.59 L323.76,839.51 L324.46,781.94 L325.15,742.74 L326.4,774.59 L327.65,753.15 L329.18,856.66 L329.9,808.07 L330.62,777.85 L331.35,729.26 L332.06,741.08 L332.78,771.26 L333.49,776.95 L334.21,807.14 L334.92,812.83 L335.64,843.01 L336.35,854.83 L337.06,828.79 L337.77,821.14 L338.48,788.98 L339.19,775.2 L339.88,776.75 L340.58,785.29 L341.27,784.51 L341.97,793.04 L342.67,792.27 L343.36,798.48 L344.03,777.88 L344.7,775.66 L345.36,748.94 L346.03,746.72 L346.7,720 L347.37,717.78 L348.03,691.06 L348.7,682.71 L349.37,716.03 L350.04,767.73 L350.7,794.92 L351.37,840.49 L352.08,791.94 L352.79,761.76 L353.5,707.07 L354.21,670.77 L354.93,718.65 L355.65,784.9 L356.38,832.77 L357.04,795.82 L357.71,777.24 L358.38,740.29 L359.05,760.35 L359.71,798.78 L360.38,812.72 L361.05,845.02 L361.83,784.18 L362.61,741.72 L363.38,680.88 L365.05,788.68 L365.8,773.88 L366.55,771.77 L367.31,752.75 L368.06,746.41 L369.22,767.85 L370.39,686.69 L371.17,724.89 L371.95,781.47 L372.73,819.67 L373.4,802.25 L374.06,803.21 L374.73,779.67 L375.4,780.63 L376.07,757.09 L376.73,751.93 L378.07,796.64 L379.74,691.9 L380.74,713.34 L381.74,690.31 L382.36,731.67 L382.99,791.4 L383.62,826.63 L384.24,880.24 L384.85,870.95 L385.47,868.1 L386.08,858.81 L386.69,871.74 L387.3,901.3 L387.91,914.24 L388.55,864.01 L389.19,832.16 L389.83,781.94 L390.47,786.94 L391.11,798.37 L391.75,803.38 L393.42,770.3 L394.17,783.32 L394.92,814.71 L395.67,821.6 L396.42,846.86 L397.09,801.33 L397.76,774.18 L398.42,728.65 L399.13,744.36 L399.84,778.45 L400.55,788.03 L401.26,815.99 L402.76,729.26 L403.54,791.94 L404.32,873 L405.1,935.67 L405.87,893.66 L406.63,870.01 L407.4,821.87 L408.17,798.23 L408.94,756.21 L410.44,777.65 L411.94,700.66 L412.72,737.69 L413.5,793.11 L414.28,830.14 L414.94,822.64 L415.61,821.57 L416.28,811.92 L416.95,808.7 L417.61,812.96 L418.28,825.72 L418.95,827.14 L419.62,837.06 L420.34,789.49 L421.06,760.3 L421.79,712.73 L422.51,745.6 L423.23,796.84 L423.95,829.71 L424.58,806.28 L425.21,801.23 L425.83,771.68 L426.46,760.5 L427.17,783.06 L427.88,823.99 L428.59,840.42 L429.29,875.22 L430.02,804.31 L430.74,751.78 L431.46,680.88 L432.13,717.22 L432.8,771.93 L433.47,808.27 L434.19,769.54 L434.91,749.19 L435.63,704.33 L436.36,683.98 L437.08,639.12 L437.8,612.64 L438.58,673.97 L439.36,753.68 L440.14,815.01 L440.89,795.08 L441.64,792.23 L442.39,766.59 L443.14,758.05 L443.81,778.47 L444.48,817.26 L445.15,837.68 L445.87,770.3 L446.59,721.3 L447.32,653.93 L447.98,705.89 L448.65,776.22 L449.32,828.18 L450.01,805.48 L450.71,801.14 L451.4,772.31 L452.09,767.98 L452.79,739.15 L453.48,734.82 L454.18,712.11 L454.9,769.28 L455.62,844.82 L456.35,901.99 L456.96,855.85 L457.57,828.08 L458.18,781.94 L458.79,786.94 L459.41,798.37 L460.02,803.38 L461.27,781.94 L462.52,866.89 L463.24,814.48 L463.97,780.45 L464.69,728.04 L465.44,749.48 L466.19,657.6 L466.94,699.4 L467.69,759.58 L468.44,795.26 L469.19,849.31 L469.86,760.56 L470.53,690.19 L471.2,601.43 L471.92,693.66 L472.64,804.25 L473.37,896.48 L475.04,802.76 L476.7,824.2 L477.96,786.84 L479.21,808.27 L479.21,762.95 L480.46,784.39 L481.71,749.48 L483.38,814.83 L484.1,783.65 L484.82,770.85 L485.55,739.68 L486.21,766.93 L486.88,812.56 L487.55,839.82 L488.18,762.72 L488.8,704 L489.43,620.77 L490.05,555.92 L490.72,594.27 L491.39,650.99 L492.05,683.2 L492.72,739.92 L493.39,778.26 L495.06,723.75 L496.39,847.17 L497.17,742.12 L497.95,655.46 L498.73,550.41 L499.4,607.64 L500.06,683.23 L500.73,734.33 L501.4,803.8 L501.73,751.93 L502.36,759.83 L502.98,783.53 L503.61,786.16 L504.24,804.6 L504.96,769.89 L505.68,753.56 L506.4,718.85 L507.82,778.51 L509.24,757.07 L510.08,781.94 L510.7,774.86 L511.33,773.85 L511.95,764.76 L512.58,761.73 L513.22,766.73 L513.86,778.16 L514.5,783.16 L515.14,729.06 L515.78,693.33 L516.42,639.23 L517.83,763.56 L519.25,742.12 L520.42,781.33 L521.14,721.71 L521.87,680.47 L522.59,620.85 L523.29,649.61 L523.98,696.74 L524.68,719.37 L525.37,766.5 L526.07,789.13 L526.76,830.14 L527.85,808.7 L528.93,862.79 L529.64,797.77 L530.35,751.13 L531.06,679.99 L531.77,627.22 L532.6,672.3 L533.44,650.86 L534.69,758.66 L535.94,737.23 L537.27,813.79 L538.07,761.57 L538.86,727.73 L539.65,669.39 L540.44,629.42 L541.07,678.88 L541.7,746.72 L542.32,790.05 L542.95,851.76 L543.73,842.47 L544.5,839.61 L545.28,830.33 L546.06,869.85 L546.84,927.75 L547.62,967.28 L549.12,857.89 L550.62,879.33 L551.29,828.9 L551.96,796.84 L552.63,746.41 L553.88,767.85 L555.13,746.41 L556.46,912.09 L557.13,831.2 L557.8,768.69 L558.47,687.8 L560.13,866.89 L560.86,827.75 L561.58,806.99 L562.3,767.85 L563.97,830.14 L564.76,805.12 L565.56,798.48 L566.35,767.33 L567.14,754.56 L568.81,792.35 L570.15,767.85 L570.79,772.85 L571.43,784.29 L572.06,789.29 L572.7,736.41 L573.34,701.9 L573.98,649.02 L575.4,770.3 L576.82,748.86 L578.34,789.78 L579.04,762.27 L579.73,753.13 L580.43,719.49 L581.12,710.36 L581.82,676.72 L582.51,661.46 L583.22,691.04 L583.93,739 L584.64,762.46 L585.35,804.29 L586.1,775.58 L586.85,765.25 L587.6,730.41 L588.35,713.95 L589.06,742.51 L589.77,789.44 L590.48,811.87 L591.19,852.68 L591.83,821.95 L592.47,809.6 L593.11,778.88 L593.75,783.88 L594.39,795.31 L595.03,800.31 L595.75,788.24 L596.48,784.52 L597.2,772.44 L598.7,830.94 L599.42,777.38 L600.15,742.21 L600.87,688.65 L601.7,718.24 L602.54,696.8 L603.16,733.09 L603.79,787.76 L604.42,817.92 L605.04,866.46 L605.78,835.1 L606.51,822.12 L607.24,784.63 L607.98,771.65 L608.71,740.29 L610.05,767.85 L611.38,746.41 L612.05,767.38 L612.72,806.72 L613.38,827.69 L614.89,806.25 L616.39,856.36 L617.05,804.19 L617.72,770.4 L618.39,718.24 L619.02,733.7 L619.64,767.54 L620.27,776.88 L620.89,804.6 L621.56,781.73 L622.23,777.23 L622.9,748.24 L623.56,743.74 L624.23,720.87 L624.9,770.77 L625.56,839.04 L626.23,888.94 L626.93,855.17 L627.63,839.77 L628.33,799.87 L629.04,784.47 L629.74,750.7 L630.4,766.01 L631.07,799.7 L631.74,815.01 L632.57,770.3 L633.3,788.02 L634.02,824.12 L634.74,841.84 L636.24,759.58 L636.91,770.27 L637.58,799.33 L638.25,803.9 L638.91,826.83 L639.69,773.08 L640.47,737.69 L641.25,683.94 L642.58,705.38 L643.92,680.26 L644.59,722.32 L645.25,782.75 L645.92,824.81 L647.59,766.26 L649.26,787.7 L650.93,707.83 L651.6,753.5 L652.26,817.54 L652.93,863.22 L653.68,820.39 L654.43,795.93 L655.18,746.98 L655.93,716.4 L657.02,749.48 L658.1,728.04 L659.35,749.48 L660.61,682.1 L661.27,724.51 L661.94,785.29 L662.61,827.69 L663.33,800.39 L664.05,791.47 L664.78,764.18 L665.56,842.37 L666.33,938.94 L667.11,1017.14 L667.81,965.08 L668.51,931.39 L669.22,873.2 L669.92,839.51 L670.62,787.45 L671.31,811.57 L672.01,854.07 L672.7,872.07 L673.4,914.56 L674.09,932.56 L674.79,968.93 L675.57,865.16 L676.35,779.75 L677.12,675.98 L677.75,702.31 L678.38,747.02 L679,767.24 L679.63,805.83 L680.4,766.5 L681.16,745.56 L681.93,700.11 L682.7,679.16 L683.47,639.84 L684.23,677.45 L685,733.43 L685.77,764.91 L686.54,820.89 L687.3,858.5 L688.55,828.49 L689.81,849.92 L691.51,751.93 L692.23,796.02 L692.95,858.5 L693.68,902.6 L695.35,733.73 L696.51,766.62 L697.68,745.19 L699.35,766.62 L701.02,619.62 L701.72,644.2 L702.41,687.14 L703.11,705.59 L703.8,748.54 L704.5,766.98 L705.19,803.8 L705.89,760.51 L706.58,735.59 L707.28,686.17 L707.97,661.25 L708.67,611.84 L709.36,580.79 L710.03,606.12 L710.7,649.81 L711.37,669.01 L712.03,712.71 L712.7,731.9 L713.37,775.6 L714.04,800.93 L714.7,773.41 L715.37,764.27 L716.04,730.63 L716.7,721.5 L717.37,693.98 L718.04,712.68 L718.71,749.74 L719.37,762.31 L720.04,799.38 L720.71,818.08 L721.38,785.94 L722.04,772.18 L722.71,740.04 L723.34,743.26 L723.96,752.9 L724.59,753.98 L725.21,761.48 L725.84,752.99 L726.47,751.78 L727.09,740.86 L727.72,737.23 L728.72,797.62 L729.34,775.23 L729.97,771.22 L730.6,742.71 L731.22,732.57 L731.94,747.19 L732.67,780.18 L733.39,794.8 L734.56,694.96 L735.98,731.1 L737.4,709.66 L739.06,754.38 L740.73,732.94 L742.4,792.35 L743.12,764.99 L743.85,756.01 L744.57,728.65 L745.24,761.73 L745.91,813.17 L746.57,846.25 L748.24,779.49 L749.91,800.93 L750.58,724.91 L751.25,667.28 L751.91,591.27 L752.54,643.22 L753.16,713.55 L753.79,759.38 L754.42,823.59 L755.12,797.99 L755.82,790.76 L756.52,759.03 L757.22,751.8 L757.92,726.2 L758.55,746.57 L759.17,785.31 L759.8,799.55 L760.42,832.16 L761.42,807.05 L762.42,828.49 L763.76,777.04 L765.43,793.58 L766.1,759.27 L767.76,786.23 L769.43,680.26 L770.77,756.83 L772.1,735.39 L773.77,797.86 L774.94,750.39 L775.77,817.46 L776.5,800.48 L777.22,795.25 L777.94,778.26 L778.78,832.77 L780.03,811.34 L781.28,835.23 L782.7,807.05 L784.12,828.49" fill="none" stroke="#000" stroke-opacity="0.8" stroke-width="2.6" stroke-linejoin="round" stroke-linecap="butt"/>
</g>
<line x1="39.5" x2="820.5" y1="1017.8" y2="1017.8" stroke="#cccccc" stroke-width="1.75"/>
<line x1="75" x2="75" y1="1018.0999999999999" y2="1023.0" stroke="#262626" stroke-width="1.4"/>
<text x="75" y="1038.8" text-anchor="middle" font-size="13.89" fill="#262626" stroke="#262626" stroke-width="0.2">1940</text>
<line x1="159.56" x2="159.56" y1="1018.0999999999999" y2="1023.0" stroke="#262626" stroke-width="1.4"/>
<text x="159.56" y="1038.8" text-anchor="middle" font-size="13.89" fill="#262626" stroke="#262626" stroke-width="0.2">1950</text>
<line x1="244.12" x2="244.12" y1="1018.0999999999999" y2="1023.0" stroke="#262626" stroke-width="1.4"/>
<text x="244.12" y="1038.8" text-anchor="middle" font-size="13.89" fill="#262626" stroke="#262626" stroke-width="0.2">1960</text>
<line x1="328.68" x2="328.68" y1="1018.0999999999999" y2="1023.0" stroke="#262626" stroke-width="1.4"/>
<text x="328.68" y="1038.8" text-anchor="middle" font-size="13.89" fill="#262626" stroke="#262626" stroke-width="0.2">1970</text>
<line x1="413.24" x2="413.24" y1="1018.0999999999999" y2="1023.0" stroke="#262626" stroke-width="1.4"/>
<text x="413.24" y="1038.8" text-anchor="middle" font-size="13.89" fill="#262626" stroke="#262626" stroke-width="0.2">1980</text>
<line x1="497.8" x2="497.8" y1="1018.0999999999999" y2="1023.0" stroke="#262626" stroke-width="1.4"/>
<text x="497.8" y="1038.8" text-anchor="middle" font-size="13.89" fill="#262626" stroke="#262626" stroke-width="0.2">1990</text>
<line x1="582.36" x2="582.36" y1="1018.0999999999999" y2="1023.0" stroke="#262626" stroke-width="1.4"/>
<text x="582.36" y="1038.8" text-anchor="middle" font-size="13.89" fill="#262626" stroke="#262626" stroke-width="0.2">2000</text>
<line x1="666.92" x2="666.92" y1="1018.0999999999999" y2="1023.0" stroke="#262626" stroke-width="1.4"/>
<text x="666.92" y="1038.8" text-anchor="middle" font-size="13.89" fill="#262626" stroke="#262626" stroke-width="0.2">2010</text>
<line x1="751.48" x2="751.48" y1="1018.0999999999999" y2="1023.0" stroke="#262626" stroke-width="1.4"/>
<text x="751.48" y="1038.8" text-anchor="middle" font-size="13.89" fill="#262626" stroke="#262626" stroke-width="0.2">2020</text>
<text x="35.4" y="969.35" text-anchor="end" font-size="13.89" fill="#262626" stroke="#262626" stroke-width="0.2">−3</text>
<text x="35.4" y="908.1" text-anchor="end" font-size="13.89" fill="#262626" stroke="#262626" stroke-width="0.2">−2</text>
<text x="35.4" y="846.85" text-anchor="end" font-size="13.89" fill="#262626" stroke="#262626" stroke-width="0.2">−1</text>
<text x="35.4" y="785.6" text-anchor="end" font-size="13.89" fill="#262626" stroke="#262626" stroke-width="0.2">0</text>
<text x="35.4" y="724.35" text-anchor="end" font-size="13.89" fill="#262626" stroke="#262626" stroke-width="0.2">1</text>
<text x="35.4" y="663.1" text-anchor="end" font-size="13.89" fill="#262626" stroke="#262626" stroke-width="0.2">2</text>
<text x="35.4" y="601.85" text-anchor="end" font-size="13.89" fill="#262626" stroke="#262626" stroke-width="0.2">3</text>
<text transform="translate(12,784.2) rotate(-90)" text-anchor="middle" font-size="13.89" fill="#262626" stroke="#262626" stroke-width="0.2">NAO index</text>
<text x="430" y="1057.3" text-anchor="middle" font-size="13.89" fill="#262626" stroke="#262626" stroke-width="0.2">time</text>
<rect x="47.2" y="557.6" width="115.3" height="25" rx="2.8" ry="2.8" fill="#fff" fill-opacity="0.8" stroke="#cccccc" stroke-width="1.3"/>
<line x1="53.400000000000006" x2="80.5" y1="569.5" y2="569.5" stroke="#000" stroke-opacity="0.8" stroke-width="2.2" stroke-linecap="round"/>
<text x="91.4" y="574.3000000000001" font-size="13.7" fill="#262626" stroke="#262626" stroke-width="0.2">ERA5 era5</text>
</svg>
</body></html>
